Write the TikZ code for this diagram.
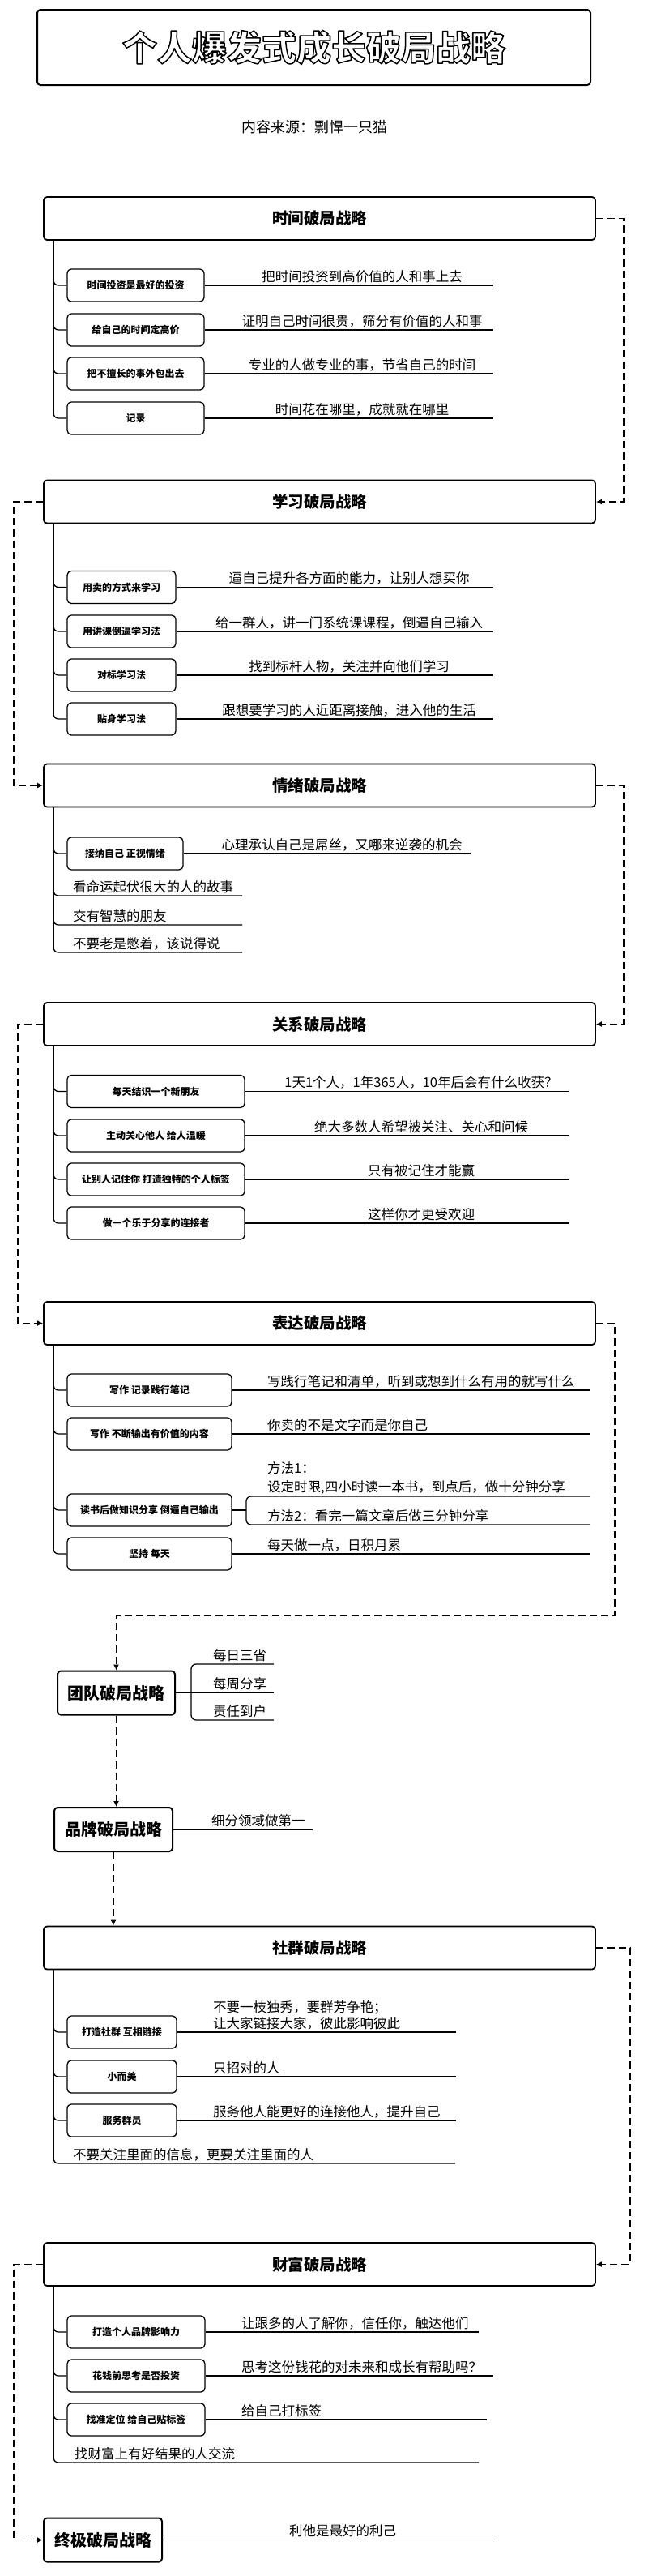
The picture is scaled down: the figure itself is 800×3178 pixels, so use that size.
\documentclass[tikz,border=0pt]{standalone}
\usepackage{fontspec}
\setmainfont{Noto Sans CJK SC}
\usetikzlibrary{arrows.meta}
\newcommand{\hollowtext}[1]{{\color{white}\special{pdf:literal direct 0 G 1.5 w 1 j 2 Tr}#1\special{pdf:literal direct 0 Tr}}}
\begin{document}
\begin{tikzpicture}[x=1pt,y=-1pt,
 titlebox/.style={draw, line width=2pt, rounded corners=4pt, fill=white, minimum width=683pt, minimum height=93pt, inner sep=0pt, font=\fontsize{43}{46}\selectfont\bfseries},
 sec/.style={draw, line width=1.8pt, rounded corners=4pt, fill=white, minimum width=681pt, minimum height=53pt, inner sep=0pt, font=\fontsize{19.5}{22}\selectfont\bfseries},
 ibox/.style={draw, line width=1.3pt, rounded corners=5pt, fill=white, minimum height=40pt, inner sep=0pt, font=\fontsize{12}{14}\selectfont\bfseries},
 sbox/.style={draw, line width=2pt, rounded corners=4pt, fill=white, minimum height=54pt, inner sep=0pt, font=\fontsize{20}{22}\selectfont\bfseries},
 txt/.style={font=\fontsize{16.5}{18}\selectfont, inner sep=0pt},
 ul/.style={line width=1.3pt},
 tree/.style={line width=1.3pt, rounded corners=6pt},
 flow/.style={line width=1.8pt, dash pattern=on 9pt off 5pt, -{Latex[length=7pt,width=7pt]}},
]
\useasboundingbox (0,0) rectangle (800,3178);

% ---------- title ----------
\node[titlebox] (title) at (387.5,58.5) {\hollowtext{个人爆发式成长破局战略}};
\node[font=\fontsize{18}{20}\selectfont, inner sep=0pt] (src) at (388,157) {内容来源：剽悍一只猫};

% ---------- section boxes ----------
\node[sec] (s1) at (394.5,269.5) {时间破局战略};
\node[sec] (s2) at (394.5,619) {学习破局战略};
\node[sec] (s3) at (394.5,969) {情绪破局战略};
\node[sec] (s4) at (394.5,1263.5) {关系破局战略};
\node[sec] (s5) at (394.5,1632.5) {表达破局战略};
\node[sec] (s6) at (394.5,2403) {社群破局战略};
\node[sec] (s7) at (394.5,2793.5) {财富破局战略};
\node[sbox, minimum width=145pt] (team) at (143.5,2088.5) {团队破局战略};
\node[sbox, minimum width=146pt] (brand) at (140,2257) {品牌破局战略};
\node[sbox, minimum width=146pt] (fin) at (127,3133.5) {终极破局战略};

% ---------- 时间 ----------
\node[ibox, minimum width=169pt] (t1) at (167.5,352) {时间投资是最好的投资};
\node[ibox, minimum width=169pt] (t2) at (167.5,407) {给自己的时间定高价};
\node[ibox, minimum width=169pt] (t3) at (167.5,461) {把不擅长的事外包出去};
\node[ibox, minimum width=169pt] (t4) at (167.5,516) {记录};
\foreach \n in {t1,t2,t3,t4} \draw[tree] ([xshift=13pt]s1.south west) |- (\n.west);
\coordinate (t1e) at (609,352);
\coordinate (t2e) at (609,407);
\coordinate (t3e) at (609,461);
\coordinate (t4e) at (609,516);
\draw[ul] (t1.east) -- (t1e);
\draw[ul] (t2.east) -- (t2e);
\draw[ul] (t3.east) -- (t3e);
\draw[ul] (t4.east) -- (t4e);
\node[txt, anchor=base] (t1l) at (447,347) {把时间投资到高价值的人和事上去};
\node[txt, anchor=base] (t2l) at (447,402) {证明自己时间很贵，筛分有价值的人和事};
\node[txt, anchor=base] (t3l) at (447,456) {专业的人做专业的事，节省自己的时间};
\node[txt, anchor=base] (t4l) at (447,511) {时间花在哪里，成就就在哪里};

% ---------- 学习 ----------
\node[ibox, minimum width=134pt] (l1) at (150,724.5) {用卖的方式来学习};
\node[ibox, minimum width=134pt] (l2) at (150,779) {用讲课倒逼学习法};
\node[ibox, minimum width=134pt] (l3) at (150,833) {对标学习法};
\node[ibox, minimum width=134pt] (l4) at (150,887) {贴身学习法};
\foreach \n in {l1,l2,l3,l4} \draw[tree] ([xshift=13pt]s2.south west) |- (\n.west);
\coordinate (l1e) at (609,724.5);
\coordinate (l2e) at (609,779);
\coordinate (l3e) at (609,833);
\coordinate (l4e) at (609,887);
\draw[ul] (l1.east) -- (l1e);
\draw[ul] (l2.east) -- (l2e);
\draw[ul] (l3.east) -- (l3e);
\draw[ul] (l4.east) -- (l4e);
\node[txt, anchor=base] (l1l) at (431,719.5) {逼自己提升各方面的能力，让别人想买你};
\node[txt, anchor=base] (l2l) at (431,774) {给一群人，讲一门系统课课程，倒逼自己输入};
\node[txt, anchor=base] (l3l) at (431,828) {找到标杆人物，关注并向他们学习};
\node[txt, anchor=base] (l4l) at (431,882) {跟想要学习的人近距离接触，进入他的生活};

% ---------- 情绪 ----------
\node[ibox, minimum width=143pt] (e1) at (154.5,1053) {接纳自己 正视情绪};
\draw[tree] ([xshift=13pt]s3.south west) |- (e1.west);
\coordinate (e1e) at (581,1053);
\draw[ul] (e1.east) -- (e1e);
\node[txt, anchor=base] (e1l) at (422,1048) {心理承认自己是屌丝，又哪来逆袭的机会};
\coordinate (e2e) at (299,1105);
\coordinate (e3e) at (299,1141);
\coordinate (e4e) at (299,1175);
\draw[tree] ([xshift=13pt]s3.south west) |- (e2e);
\draw[tree] ([xshift=13pt]s3.south west) |- (e3e);
\draw[tree] ([xshift=13pt]s3.south west) |- (e4e);
\node[txt, anchor=base west] (e2l) at (90,1100) {看命运起伏很大的人的故事};
\node[txt, anchor=base west] (e3l) at (90,1136) {交有智慧的朋友};
\node[txt, anchor=base west] (e4l) at (90,1170) {不要老是憋着，该说得说};

% ---------- 关系 ----------
\node[ibox, minimum width=219pt] (r1) at (192.5,1346.5) {每天结识一个新朋友};
\node[ibox, minimum width=219pt] (r2) at (192.5,1401) {主动关心他人 给人温暖};
\node[ibox, minimum width=219pt] (r3) at (192.5,1455) {让别人记住你 打造独特的个人标签};
\node[ibox, minimum width=219pt] (r4) at (192.5,1509) {做一个乐于分享的连接者};
\foreach \n in {r1,r2,r3,r4} \draw[tree] ([xshift=13pt]s4.south west) |- (\n.west);
\coordinate (r1e) at (702,1346.5);
\coordinate (r2e) at (702,1401);
\coordinate (r3e) at (702,1455);
\coordinate (r4e) at (702,1509);
\draw[ul] (r1.east) -- (r1e);
\draw[ul] (r2.east) -- (r2e);
\draw[ul] (r3.east) -- (r3e);
\draw[ul] (r4.east) -- (r4e);
\node[txt, anchor=base] (r1l) at (520,1341.5) {1天1个人，1年365人，10年后会有什么收获？};
\node[txt, anchor=base] (r2l) at (520,1396) {绝大多数人希望被关注、关心和问候};
\node[txt, anchor=base] (r3l) at (520,1450) {只有被记住才能赢};
\node[txt, anchor=base] (r4l) at (520,1504) {这样你才更受欢迎};

% ---------- 表达 ----------
\node[ibox, minimum width=203pt] (x1) at (184.5,1715) {写作 记录践行笔记};
\node[ibox, minimum width=203pt] (x2) at (184.5,1769) {写作 不断输出有价值的内容};
\node[ibox, minimum width=203pt] (x3) at (184.5,1863) {读书后做知识分享 倒逼自己输出};
\node[ibox, minimum width=203pt] (x4) at (184.5,1917) {坚持 每天};
\foreach \n in {x1,x2,x3,x4} \draw[tree] ([xshift=13pt]s5.south west) |- (\n.west);
\coordinate (x1e) at (728,1715);
\coordinate (x2e) at (728,1769);
\coordinate (x4e) at (728,1917);
\draw[ul] (x1.east) -- (x1e);
\draw[ul] (x2.east) -- (x2e);
\draw[ul] (x4.east) -- (x4e);
\coordinate (xb) at (304,1863);
\coordinate (m1e) at (728,1846);
\coordinate (m2e) at (728,1881);
\draw[ul] (x3.east) -- (xb);
\draw[ul, rounded corners=6pt] (m1e) -| (xb) |- (m2e);
\node[txt, anchor=base west] (x1l) at (330,1710) {写践行笔记和清单，听到或想到什么有用的就写什么};
\node[txt, anchor=base west] (x2l) at (330,1764) {你卖的不是文字而是你自己};
\node[txt, anchor=base west] (m1a) at (330,1817) {方法1：};
\node[txt, anchor=base west] (m1b) at (330,1840) {设定时限,四小时读一本书，到点后，做十分钟分享};
\node[txt, anchor=base west] (m2l) at (330,1876) {方法2：看完一篇文章后做三分钟分享};
\node[txt, anchor=base west] (x4l) at (330,1912) {每天做一点，日积月累};

% ---------- 团队 ----------
\coordinate (tb) at (236,2088.5);
\coordinate (ta) at (338,2053);
\coordinate (tm) at (338,2088.5);
\coordinate (tc) at (338,2122);
\draw[ul] (team.east) -- (tm);
\draw[ul, rounded corners=6pt] (ta) -| (tb) |- (tc);
\node[txt, anchor=base west] (ta1) at (263,2048) {每日三省};
\node[txt, anchor=base west] (ta2) at (263,2083.5) {每周分享};
\node[txt, anchor=base west] (ta3) at (263,2117) {责任到户};

% ---------- 品牌 ----------
\coordinate (be) at (386,2257);
\draw[ul] (brand.east) -- (be);
\node[txt, anchor=base west] (bl) at (261,2252) {细分领域做第一};

% ---------- 社群 ----------
\node[ibox, minimum width=135pt] (g1) at (150.5,2507) {打造社群 互相链接};
\node[ibox, minimum width=135pt] (g2) at (150.5,2562) {小而美};
\node[ibox, minimum width=135pt] (g3) at (150.5,2616) {服务群员};
\foreach \n in {g1,g2,g3} \draw[tree] ([xshift=13pt]s6.south west) |- (\n.west);
\coordinate (g1e) at (563,2507);
\coordinate (g2e) at (563,2562);
\coordinate (g3e) at (563,2616);
\coordinate (g4e) at (562,2669);
\draw[ul] (g1.east) -- (g1e);
\draw[ul] (g2.east) -- (g2e);
\draw[ul] (g3.east) -- (g3e);
\draw[tree] ([xshift=13pt]s6.south west) |- (g4e);
\node[txt, anchor=base west] (g1a) at (263,2482) {不要一枝独秀，要群芳争艳；};
\node[txt, anchor=base west] (g1b) at (263,2502) {让大家链接大家，彼此影响彼此};
\node[txt, anchor=base west] (g2l) at (263,2557) {只招对的人};
\node[txt, anchor=base west] (g3l) at (263,2611) {服务他人能更好的连接他人，提升自己};
\node[txt, anchor=base west] (g4l) at (90,2664) {不要关注里面的信息，更要关注里面的人};

% ---------- 财富 ----------
\node[ibox, minimum width=170pt] (w1) at (168,2877) {打造个人品牌影响力};
\node[ibox, minimum width=170pt] (w2) at (168,2931) {花钱前思考是否投资};
\node[ibox, minimum width=170pt] (w3) at (168,2985) {找准定位 给自己贴标签};
\foreach \n in {w1,w2,w3} \draw[tree] ([xshift=13pt]s7.south west) |- (\n.west);
\coordinate (w1e) at (591,2877);
\coordinate (w2e) at (609,2931);
\coordinate (w3e) at (601,2985);
\coordinate (w4e) at (591,3038);
\draw[ul] (w1.east) -- (w1e);
\draw[ul] (w2.east) -- (w2e);
\draw[ul] (w3.east) -- (w3e);
\draw[tree] ([xshift=13pt]s7.south west) |- (w4e);
\node[txt, anchor=base west] (w1l) at (298,2872) {让跟多的人了解你，信任你，触达他们};
\node[txt, anchor=base west] (w2l) at (298,2926) {思考这份钱花的对未来和成长有帮助吗？};
\node[txt, anchor=base west] (w3l) at (298,2980) {给自己打标签};
\node[txt, anchor=base west] (w4l) at (92,3033) {找财富上有好结果的人交流};

% ---------- 终极 ----------
\coordinate (fe) at (609,3133.5);
\draw[ul] (fin.east) -- (fe);
\node[txt, anchor=base] (fl) at (423,3128.5) {利他是最好的利己};

% ---------- flow connectors ----------
\draw[flow] (s1.east) -- ++(34,0) |- (s2.east);
\draw[flow] (s2.west) -- ++(-36,0) |- (s3.west);
\draw[flow] (s3.east) -- ++(34,0) |- (s4.east);
\draw[flow] (s4.west) -- ++(-31,0) |- (s5.west);
\coordinate (k1) at (759,1993);
\draw[flow] (s5.east) -| (k1) -| (team.north);
\draw[flow] (team.south) -- (team.south |- brand.north);
\draw[flow] (brand.south) -- (brand.south |- s6.north);
\draw[flow] (s6.east) -- ++(42,0) |- (s7.east);
\draw[flow] (s7.west) -- ++(-36,0) |- (fin.west);
\end{tikzpicture}
\end{document}
